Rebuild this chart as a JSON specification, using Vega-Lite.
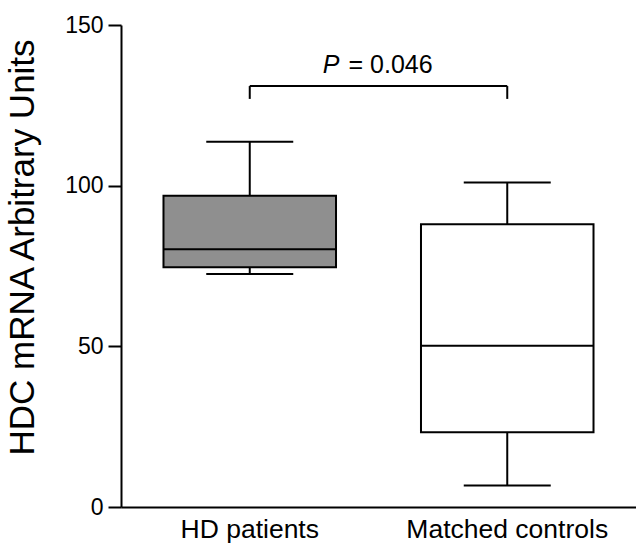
{
  "$schema": "https://vega.github.io/schema/vega-lite/v6.json",
  "width": 515,
  "height": 482,
  "autosize": {"type": "none"},
  "padding": {"left": 121, "top": 25, "right": 0, "bottom": 37},
  "background": "white",
  "config": {
    "view": {"stroke": null},
    "font": "Liberation Sans",
    "axis": {"grid": false, "domainColor": "black", "domainWidth": 2, "tickColor": "black", "tickWidth": 2, "labelColor": "#000", "titleColor": "#000", "labelFont": "Liberation Sans", "titleFont": "Liberation Sans"},
    "axisX": {"labelFontSize": 26.5, "labelPadding": 9, "ticks": false, "labelAngle": 0, "labelLimit": 0},
    "axisY": {"labelFontSize": 23, "labelPadding": 5, "tickSize": 13, "titleFontSize": 35, "titleFontWeight": "normal", "titlePadding": 24, "labelLimit": 0}
  },
  "datasets": {
    "boxes": [
      {"group": "HD patients", "lower": 72.5, "q1": 74.6, "median": 80.2, "q3": 96.9, "upper": 113.7},
      {"group": "Matched controls", "lower": 6.7, "q1": 23.3, "median": 50.2, "q3": 88.0, "upper": 101.0}
    ],
    "bracket": [
      {"from": "HD patients", "to": "Matched controls", "y": 131}
    ],
    "bracketEnds": [
      {"group": "HD patients", "y": 127, "y2": 131},
      {"group": "Matched controls", "y": 127, "y2": 131}
    ],
    "ptext": [
      {"group": "HD patients", "y": 137.6, "p": "P", "rest": "= 0.046"}
    ]
  },
  "encoding": {},
  "layer": [
    {
      "data": {"name": "boxes"},
      "mark": {"type": "rule", "color": "black", "strokeWidth": 2},
      "encoding": {
        "x": {"field": "group", "type": "nominal", "sort": null,
              "scale": {"paddingInner": 0, "paddingOuter": 0},
              "axis": {"title": null}},
        "y": {"field": "lower", "type": "quantitative",
              "scale": {"domain": [0, 150], "nice": false},
              "axis": {"title": "HDC mRNA Arbitrary Units", "values": [0, 50, 100, 150], "titleY": 222}},
        "y2": {"field": "upper"}
      }
    },
    {
      "data": {"name": "boxes"},
      "mark": {"type": "bar", "width": {"band": 0.67}, "stroke": "black", "strokeWidth": 2},
      "encoding": {
        "x": {"field": "group", "type": "nominal", "sort": null},
        "y": {"field": "q1", "type": "quantitative"},
        "y2": {"field": "q3"},
        "fill": {"field": "group", "type": "nominal", "scale": {"domain": ["HD patients", "Matched controls"], "range": ["#8f8f8f", "#ffffff"]}, "legend": null}
      }
    },
    {
      "data": {"name": "boxes"},
      "mark": {"type": "tick", "color": "black", "size": 172, "thickness": 2, "opacity": 1},
      "encoding": {
        "x": {"field": "group", "type": "nominal", "sort": null},
        "y": {"field": "median", "type": "quantitative"}
      }
    },
    {
      "data": {"name": "boxes"},
      "mark": {"type": "tick", "color": "black", "size": 87, "thickness": 2, "opacity": 1},
      "encoding": {
        "x": {"field": "group", "type": "nominal", "sort": null},
        "y": {"field": "upper", "type": "quantitative"}
      }
    },
    {
      "data": {"name": "boxes"},
      "mark": {"type": "tick", "color": "black", "size": 87, "thickness": 2, "opacity": 1},
      "encoding": {
        "x": {"field": "group", "type": "nominal", "sort": null},
        "y": {"field": "lower", "type": "quantitative"}
      }
    },
    {
      "data": {"name": "bracket"},
      "mark": {"type": "rule", "color": "black", "strokeWidth": 2},
      "encoding": {
        "x": {"field": "from", "type": "nominal", "bandPosition": 0.5},
        "x2": {"field": "to", "bandPosition": 0.5},
        "y": {"field": "y", "type": "quantitative"}
      }
    },
    {
      "data": {"name": "bracketEnds"},
      "mark": {"type": "rule", "color": "black", "strokeWidth": 2},
      "encoding": {
        "x": {"field": "group", "type": "nominal", "sort": null},
        "y": {"field": "y", "type": "quantitative"},
        "y2": {"field": "y2"}
      }
    },
    {
      "data": {"name": "ptext"},
      "mark": {"type": "text", "fontSize": 25, "fontStyle": "italic", "align": "right", "baseline": "middle", "dx": -39, "color": "#000"},
      "encoding": {
        "x": {"field": "group", "type": "nominal", "bandPosition": 1},
        "y": {"field": "y", "type": "quantitative"},
        "text": {"field": "p"}
      }
    },
    {
      "data": {"name": "ptext"},
      "mark": {"type": "text", "fontSize": 25, "align": "left", "baseline": "middle", "dx": -30, "color": "#000"},
      "encoding": {
        "x": {"field": "group", "type": "nominal", "bandPosition": 1},
        "y": {"field": "y", "type": "quantitative"},
        "text": {"field": "rest"}
      }
    }
  ]
}
